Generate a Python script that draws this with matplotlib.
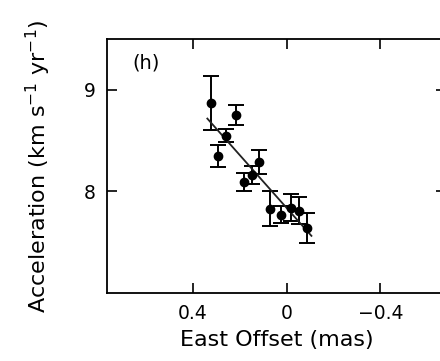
import matplotlib
matplotlib.use("Agg")
import matplotlib.pyplot as plt
import numpy as np

# East offset (mas), acceleration (km/s/yr) and 1-sigma errors
east_offset = [0.322, 0.291, 0.258, 0.216, 0.180, 0.149, 0.116, 0.071, 0.024, -0.017, -0.052, -0.085]
acceleration = [8.87, 8.35, 8.55, 8.75, 8.09, 8.16, 8.29, 7.83, 7.77, 7.84, 7.81, 7.64]
accel_err = [0.27, 0.11, 0.065, 0.10, 0.09, 0.09, 0.12, 0.17, 0.085, 0.13, 0.135, 0.15]

# fitted line endpoints (x range) and coefficients
fit_x = [0.338, -0.106]
fit_slope = 2.6
fit_intercept = 7.838

x_ticks = [0.4, 0, -0.4]
x_tick_labels = ["0.4", "0", "\u22120.4"]
y_ticks = [8, 9]

fig = plt.figure(figsize=(4.4, 3.61), dpi=100)
ax = fig.add_axes([107 / 440, 1 - 293 / 361, (446 - 107) / 440, (293 - 39) / 361])

ax.errorbar(east_offset, acceleration, yerr=accel_err, fmt="o", color="black",
            markersize=6, elinewidth=1.4, capsize=6, capthick=1.4)

fx = np.array(fit_x)
ax.plot(fx, fit_intercept + fit_slope * fx, color="#222222", linewidth=1.3)

ax.set_xlim(0.766, -0.68)
ax.set_ylim(7.0, 9.5)
ax.set_xticks(x_ticks)
ax.set_xticklabels(x_tick_labels)
ax.set_yticks(y_ticks)
ax.tick_params(direction="in", length=7.5, width=1.2, top=True, right=True,
               labelsize=13.5, pad=8)
for s in ax.spines.values():
    s.set_linewidth(1.3)

ax.text(0.075, 0.905, "(h)", transform=ax.transAxes, fontsize=14, va="center", ha="left")

ax.set_xlabel("East Offset (mas)", fontsize=16, labelpad=5)
ax.set_ylabel("Acceleration (km s$^{-1}$ yr$^{-1}$)", fontsize=16, labelpad=22)

fig.savefig("out.png", dpi=100)
